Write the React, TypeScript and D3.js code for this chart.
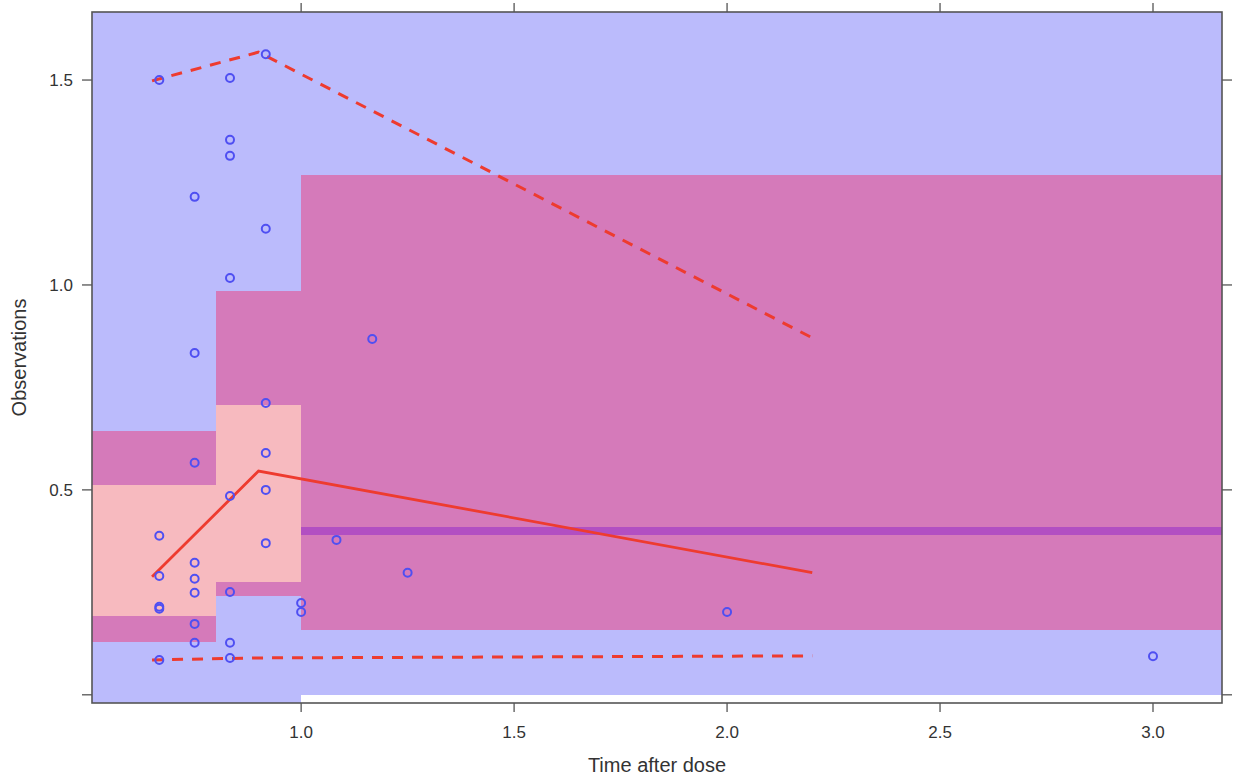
import React from "react";
import * as d3 from "d3";

// bins of the VPC (time after dose)
const binEdges = [0.5, 0.8, 1.0, 3.2];
// band limits per bin (bottom -> top)
const outerLo = [-0.1, -0.1, 0.0];
const innerLo = [0.129, 0.241, 0.159];
const medLo = [0.193, 0.276, 0.39];
const medHi = [0.512, 0.707, 0.41];
const innerHi = [0.644, 0.985, 1.268];
const outerHi = [1.8, 1.8, 1.8];

// observed percentiles
const lineX = [0.65, 0.9, 2.2];
const obsLower = [0.085, 0.09, 0.095];
const obsMedian = [0.288, 0.546, 0.298];
const obsUpper = [1.498, 1.568, 0.871];

// observations
const obsTime = [
  0.667, 0.667, 0.667, 0.667, 0.667, 0.667,
  0.75, 0.75, 0.75, 0.75, 0.75, 0.75, 0.75, 0.75,
  0.833, 0.833, 0.833, 0.833, 0.833, 0.833, 0.833, 0.833,
  0.917, 0.917, 0.917, 0.917, 0.917, 0.917,
  1.0, 1.0, 1.083, 1.167, 1.25, 2.0, 3.0,
];
const obsValue = [
  1.5, 0.388, 0.29, 0.215, 0.21, 0.085,
  1.215, 0.834, 0.566, 0.322, 0.283, 0.249, 0.173, 0.127,
  1.505, 1.354, 1.315, 1.017, 0.485, 0.251, 0.127, 0.09,
  1.563, 1.137, 0.712, 0.59, 0.5, 0.37,
  0.224, 0.202, 0.378, 0.868, 0.298, 0.202, 0.094,
];

const xTicks = [1.0, 1.5, 2.0, 2.5, 3.0];
const yTicks = [0.0, 0.5, 1.0, 1.5];
const yTickLabels = ["", "0.5", "1.0", "1.5"];

const W = 1234;
const H = 780;
const left = 92, right = 1222, top = 12, bottom = 703;

const BLUE = "#bbbbfc";
const MAGENTA = "#d57aba";
const PINK = "#f7babf";
const PURPLE = "#b24fc2";
const RED = "#ee3b2f";
const FRAME = "#555";
const TEXT = "#333";
const FONT = "'Liberation Sans', Arial, Helvetica, sans-serif";

export default function App() {
  const x = d3.scaleLinear().domain([0.509, 3.162]).range([left, right]);
  const y = d3.scaleLinear().domain([-0.02, 1.666]).range([bottom, top]);

  const line = d3
    .line<[number, number]>()
    .x((d) => x(d[0]))
    .y((d) => y(d[1]));
  const pts = (vals: number[]) => lineX.map((t, i) => [t, vals[i]] as [number, number]);

  const bands: { x0: number; x1: number; lo: number; hi: number; fill: string }[] = [];
  for (let i = 0; i < binEdges.length - 1; i++) {
    const x0 = binEdges[i], x1 = binEdges[i + 1];
    bands.push({ x0, x1, lo: outerLo[i], hi: innerLo[i], fill: BLUE });
    bands.push({ x0, x1, lo: innerLo[i], hi: medLo[i], fill: MAGENTA });
    bands.push({ x0, x1, lo: medLo[i], hi: medHi[i], fill: i < 2 ? PINK : PURPLE });
    bands.push({ x0, x1, lo: medHi[i], hi: innerHi[i], fill: MAGENTA });
    bands.push({ x0, x1, lo: innerHi[i], hi: outerHi[i], fill: BLUE });
  }

  return (
    <svg
      width={W}
      height={H}
      style={{ position: "absolute", left: 0, top: 0, background: "#fff" }}
      fontFamily={FONT}
    >
      <defs>
        <clipPath id="panel">
          <rect x={left} y={top} width={right - left} height={bottom - top} />
        </clipPath>
      </defs>

      <g clipPath="url(#panel)">
        {bands.map((b, i) => (
          <rect
            key={i}
            x={Math.round(x(b.x0))}
            y={Math.round(y(b.hi))}
            width={Math.round(x(b.x1)) - Math.round(x(b.x0))}
            height={Math.round(y(b.lo)) - Math.round(y(b.hi))}
            fill={b.fill}
            shapeRendering="crispEdges"
          />
        ))}

        <path d={line(pts(obsUpper)) || ""} fill="none" stroke={RED} strokeWidth={3} strokeDasharray="11,9" />
        <path d={line(pts(obsLower)) || ""} fill="none" stroke={RED} strokeWidth={3} strokeDasharray="11,9" />
        <path d={line(pts(obsMedian)) || ""} fill="none" stroke={RED} strokeWidth={2.8} />

        {obsTime.map((t, i) => (
          <circle
            key={i}
            cx={x(t)}
            cy={y(obsValue[i])}
            r={4}
            fill="none"
            stroke="#4f4ff2"
            strokeWidth={2}
          />
        ))}
      </g>

      {/* frame */}
      <rect x={left} y={top} width={right - left} height={bottom - top} fill="none" stroke={FRAME} strokeWidth={1.6} />

      {/* x ticks bottom and top */}
      {xTicks.map((t) => (
        <g key={"x" + t}>
          <line x1={x(t)} x2={x(t)} y1={bottom} y2={bottom + 9} stroke={FRAME} strokeWidth={1.3} />
          <line x1={x(t)} x2={x(t)} y1={top} y2={top - 9} stroke={FRAME} strokeWidth={1.3} />
          <text x={x(t)} y={bottom + 35} textAnchor="middle" fontSize={17} fill={TEXT}>
            {t.toFixed(1)}
          </text>
        </g>
      ))}

      {/* y ticks left and right */}
      {yTicks.map((t, i) => (
        <g key={"y" + t}>
          <line x1={left} x2={left - 10} y1={y(t)} y2={y(t)} stroke={FRAME} strokeWidth={1.3} />
          <line x1={right} x2={right + 10} y1={y(t)} y2={y(t)} stroke={FRAME} strokeWidth={1.3} />
          <text x={left - 19} y={y(t)} dy="0.35em" textAnchor="end" fontSize={17} fill={TEXT}>
            {yTickLabels[i]}
          </text>
        </g>
      ))}

      <text x={(left + right) / 2} y={772} textAnchor="middle" fontSize={20} fill={TEXT}>
        Time after dose
      </text>
      <text
        transform={`translate(26,${(top + bottom) / 2}) rotate(-90)`}
        textAnchor="middle"
        fontSize={20}
        fill={TEXT}
      >
        Observations
      </text>
    </svg>
  );
}
